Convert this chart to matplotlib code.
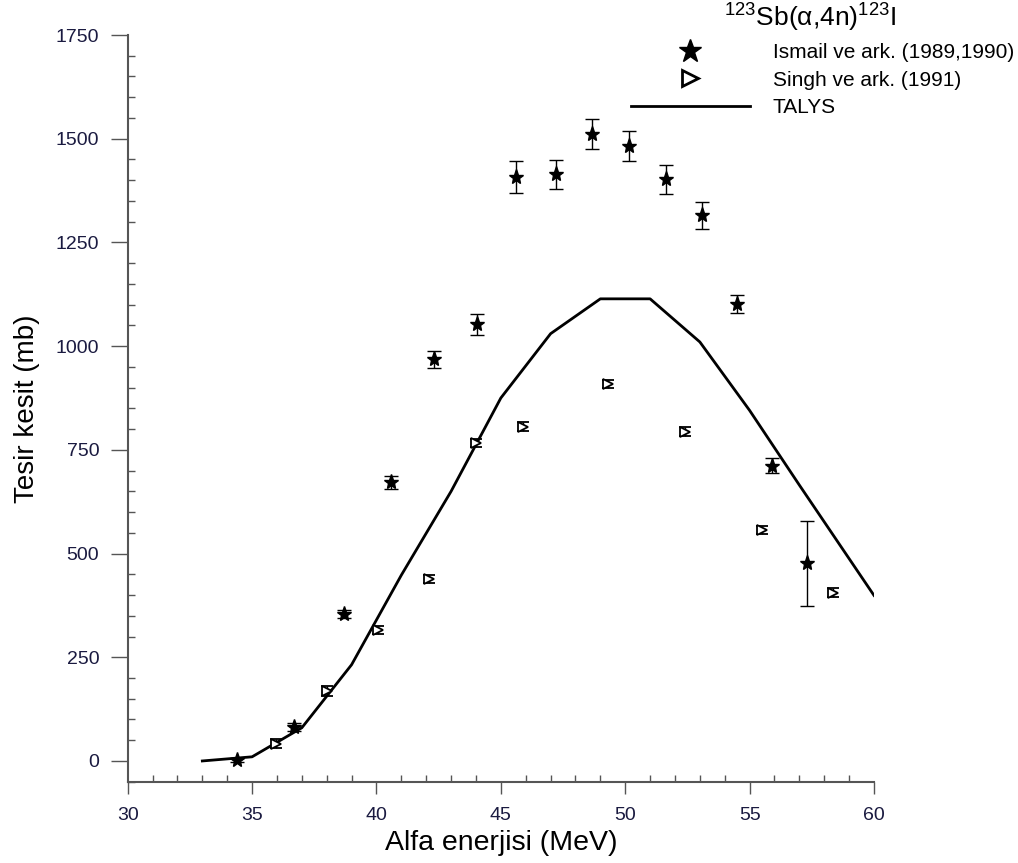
import numpy as np
import matplotlib
matplotlib.use("Agg")
import matplotlib.pyplot as plt
from matplotlib.lines import Line2D
from matplotlib.ticker import MultipleLocator

plt.rcParams['font.family'] = ['Liberation Sans', 'DejaVu Sans']
plt.rcParams['mathtext.fontset'] = 'custom'
plt.rcParams['mathtext.rm'] = 'Liberation Sans'
plt.rcParams['mathtext.it'] = 'Liberation Sans:italic'

# Ismail ve ark. (1989,1990)
ismail_x = [34.4, 36.7, 38.7, 40.6, 42.3, 44.05, 45.6, 47.2, 48.65, 50.15, 51.65, 53.1, 54.5, 55.9, 57.3]
ismail_y = [3, 82, 355, 672, 968, 1053, 1408, 1414, 1511, 1483, 1402, 1315, 1102, 712, 476]
ismail_err = [5, 10, 10, 16, 20, 25, 38, 35, 36, 36, 35, 33, 22, 18, 102]

# Singh ve ark. (1991)
singh_x = [35.95, 38.0, 40.05, 42.1, 44.0, 45.9, 49.3, 52.4, 55.5, 58.35]
singh_y = [42, 168, 315, 438, 766, 806, 909, 794, 556, 406]
singh_err = [10, 12, 10, 10, 10, 10, 10, 10, 10, 10]

# TALYS
talys_x = [33, 35, 37, 39, 41, 43, 45, 47, 49, 51, 53, 55, 57, 60]
talys_y = [0, 10, 80, 232, 448, 650, 875, 1030, 1114, 1114, 1010, 845, 665, 399]

W, H = 1018, 863
fig = plt.figure(figsize=(W / 100, H / 100), dpi=100)
ax = fig.add_axes([127.7 / W, 1 - 781.7 / H, (874 - 127.7) / W, (781.7 - 35) / H])

ax.plot(talys_x, talys_y, color="black", lw=2, zorder=2)
ax.errorbar(ismail_x, ismail_y, yerr=ismail_err, fmt="*", color="black", ms=11,
            ecolor="black", elinewidth=1, capsize=4.7, capthick=1, zorder=3)
ax.errorbar(singh_x, singh_y, yerr=singh_err, fmt=">", mfc="white", mec="black",
            mew=1.3, ms=7.5, ecolor="black", elinewidth=1, capsize=4, capthick=1, zorder=3)

ax.set_xlim(30, 60)
ax.set_ylim(-50, 1750)
ax.xaxis.set_major_locator(MultipleLocator(5))
ax.xaxis.set_minor_locator(MultipleLocator(1))
ax.set_yticks(np.arange(0, 1751, 250))
ax.yaxis.set_minor_locator(MultipleLocator(50))

for s in ("top", "right"):
    ax.spines[s].set_visible(False)
for s in ("left", "bottom"):
    ax.spines[s].set_color("#555555")
    ax.spines[s].set_linewidth(1.5)

tick_col = "#1a1a40"
ax.tick_params(axis="y", which="major", direction="out", length=12.5, width=1,
               color="#555555", labelsize=14, labelcolor=tick_col, pad=8)
ax.tick_params(axis="y", which="minor", direction="in", length=5, width=1, color="#555555")
ax.tick_params(axis="x", which="major", direction="out", length=8.5, width=1,
               color="#555555", labelsize=14, labelcolor=tick_col, pad=10)
ax.tick_params(axis="x", which="minor", direction="in", length=5, width=1, color="#555555")

ax.set_xlabel("Alfa enerjisi (MeV)", fontsize=20.5, labelpad=4)
ax.set_ylabel("Tesir kesit (mb)", fontsize=20, labelpad=11)

handles = [
    Line2D([], [], ls="none", marker="*", color="black", ms=17),
    Line2D([], [], ls="none", marker=">", mfc="white", mec="black", mew=2, ms=12),
    Line2D([], [], color="black", lw=2),
]
labels = ["Ismail ve ark. (1989,1990)", "Singh ve ark. (1991)", "TALYS"]
leg = fig.legend(handles, labels, loc="upper left", bbox_to_anchor=(631 / W, 1 - 2 / H),
                 frameon=False, fontsize=15, handlelength=5.7, handletextpad=1.1,
                 labelspacing=0.42, borderpad=0, borderaxespad=0,
                 title=r"$^{123}$Sb(α,4n)$^{123}$I", title_fontsize=19)
leg.get_title().set_position((-12, 0))

fig.savefig("out.png", dpi=100)
